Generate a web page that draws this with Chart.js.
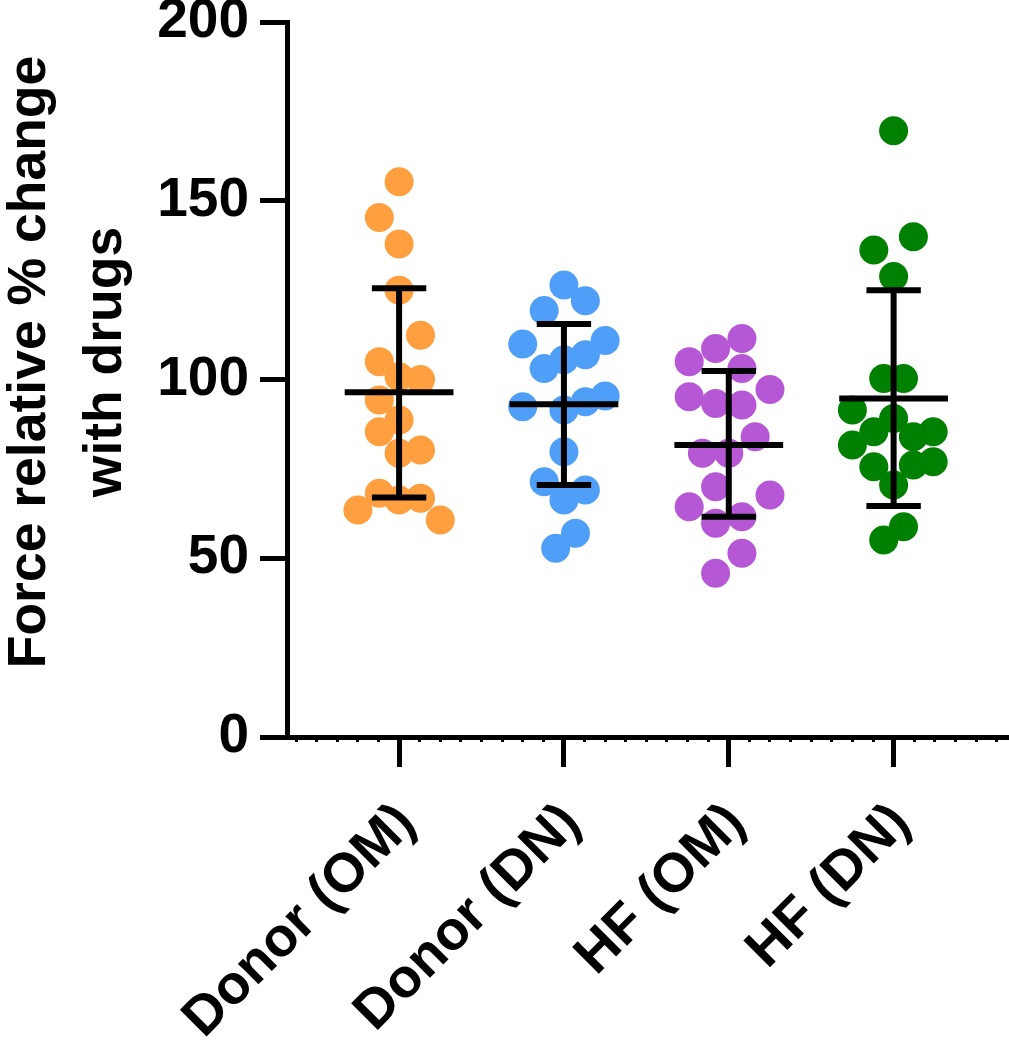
<!DOCTYPE html>
<html>
<head>
<meta charset="utf-8">
<script src="https://cdn.jsdelivr.net/npm/chart.js@4.4.0/dist/chart.umd.min.js"></script>
<style>
  html, body { margin: 0; padding: 0; background: #fff; }
  #wrap { width: 1009px; height: 1050px; position: relative; }
</style>
</head>
<body>
<div id="wrap"><canvas id="dot-plot"></canvas></div>
<script>
// groups and colours
const categories = ["Donor (OM)", "Donor (DN)", "HF (OM)", "HF (DN)"];
const colors = ["#FF9F3F", "#4F9FF8", "#B657D6", "#008000"];

// individual values + horizontal jitter in x units
const donorOM = [155.3, 145.3, 137.9, 125.0, 112.4, 105.0, 100.8, 100.0, 94.3, 88.7, 85.4, 80.3, 79.4, 68.2, 66.3, 66.8, 63.5, 60.7];
const donorOMJitter = [0, -0.12, 0, 0, 0.13, -0.12, 0, 0.13, -0.12, 0, -0.12, 0.13, 0, -0.12, 0, 0.13, -0.25, 0.25];

const donorDN = [126.4, 122.0, 119.3, 109.9, 110.9, 106.9, 105.5, 103.1, 95.4, 93.8, 92.4, 91.5, 79.8, 71.4, 69.1, 66.3, 57.0, 52.8];
const donorDNJitter = [0, 0.13, -0.12, -0.25, 0.25, 0.13, 0, -0.12, 0.25, 0.13, -0.25, 0, 0, -0.12, 0.13, 0, 0.07, -0.05];

const hfOM = [111.5, 108.7, 105.0, 103.1, 97.2, 95.2, 93.3, 92.9, 84.0, 79.4, 79.4, 70.0, 67.7, 64.4, 59.8, 61.6, 51.4, 45.8];
const hfOMJitter = [0.08, -0.08, -0.24, 0.08, 0.25, -0.24, -0.08, 0.08, 0.16, -0.16, 0, -0.08, 0.25, -0.24, -0.08, 0.08, 0.08, -0.08];

const hfDN = [169.6, 139.9, 136.2, 128.8, 100.3, 100.3, 91.5, 89.1, 85.4, 85.4, 84.0, 81.7, 75.6, 77.0, 76.1, 70.5, 58.8, 55.1];
const hfDNJitter = [0, 0.12, -0.12, 0, -0.06, 0.06, -0.25, 0, -0.12, 0.24, 0.12, -0.25, -0.12, 0.24, 0.12, 0, 0.06, -0.06];

// mean and mean ± SD
const means = [96.4, 93.1, 81.7, 94.7];
const sdUpper = [125.5, 115.5, 102.4, 125.0];
const sdLower = [67.0, 70.5, 61.6, 64.6];

const yTicks = [0, 50, 100, 150, 200];
const yTitle = ["Force relative % change", "with drugs"];

const groups = [donorOM, donorDN, hfOM, hfDN];
const jitters = [donorOMJitter, donorDNJitter, hfOMJitter, hfDNJitter];

const FONT = '"Liberation Sans", Arial, sans-serif';
const meanHalf = 0.33;
const capHalf = 0.165;

function errorBar(i) {
  const c = i + 1;
  return [
    { x: c - meanHalf, y: means[i] }, { x: c + meanHalf, y: means[i] }, { x: c, y: null },
    { x: c - capHalf, y: sdUpper[i] }, { x: c + capHalf, y: sdUpper[i] }, { x: c, y: null },
    { x: c - capHalf, y: sdLower[i] }, { x: c + capHalf, y: sdLower[i] }, { x: c, y: null },
    { x: c, y: sdLower[i] }, { x: c, y: sdUpper[i] }
  ];
}

const barSets = categories.map((name, i) => ({
  label: name + " mean ± SD",
  data: errorBar(i),
  showLine: true,
  spanGaps: false,
  borderColor: "#000",
  borderWidth: 6,
  borderCapStyle: "butt",
  pointRadius: 0,
  order: 0
}));

const dotSets = categories.map((name, i) => ({
  label: name,
  data: groups[i].map((v, k) => ({ x: i + 1 + jitters[i][k], y: v })),
  backgroundColor: colors[i],
  borderWidth: 0,
  pointRadius: 14.5,
  pointHoverRadius: 14.5,
  order: 1
}));

// y axis title, two centred lines
const yTitlePlugin = {
  id: "yTitle",
  afterDraw(chart) {
    const ctx = chart.ctx;
    ctx.save();
    ctx.translate(0, 362);
    ctx.rotate(-Math.PI / 2);
    ctx.font = "bold 53.5px " + FONT;
    ctx.fillStyle = "#000";
    ctx.textAlign = "center";
    ctx.textBaseline = "alphabetic";
    ctx.fillText(yTitle[0], 0, 45);
    ctx.fillText(yTitle[1], 0, 121);
    ctx.restore();
  }
};

new Chart("dot-plot", {
  type: "scatter",
  data: { datasets: barSets.concat(dotSets) },
  plugins: [yTitlePlugin],
  options: {
    responsive: true,
    maintainAspectRatio: false,
    animation: false,
    layout: { autoPadding: false, padding: { top: 22, left: 0, right: 0, bottom: 0 } },
    plugins: { legend: { display: false }, tooltip: { enabled: false } },
    scales: {
      y: {
        min: 0,
        max: 200,
        afterFit: (s) => { s.width = 287; s.paddingTop = 0; s.paddingBottom = 0; },
        afterBuildTicks: (s) => { s.ticks = yTicks.map(v => ({ value: v })); },
        border: { color: "#000", width: 5 },
        grid: { drawOnChartArea: false, color: "#000", tickLength: 27, tickWidth: 5 },
        ticks: { color: "#000", padding: 11, font: { family: FONT, size: 55, weight: "bold" } }
      },
      x: {
        type: "linear",
        position: "bottom",
        weight: 1,
        min: 0.32,
        max: 4.7,
        afterFit: (s) => { s.height = 313; s.paddingLeft = 0; s.paddingRight = 0; },
        afterBuildTicks: (s) => { s.ticks = categories.map((c, i) => ({ value: i + 1 })); },
        border: { color: "#000", width: 5 },
        grid: { drawOnChartArea: false, color: "#000", tickLength: 30, tickWidth: 5 },
        ticks: {
          color: "#000",
          padding: 24,
          labelOffset: 8,
          autoSkip: false,
          minRotation: 45,
          maxRotation: 45,
          font: { family: FONT, size: 55, weight: "bold" },
          callback: (v) => categories[Math.round(v) - 1]
        }
      },
      xMinor: {
        type: "linear",
        position: "bottom",
        weight: -1,
        min: 0.32,
        max: 4.7,
        afterFit: (s) => { s.height = 0; s.paddingLeft = 0; s.paddingRight = 0; },
        afterBuildTicks: (s) => {
          const t = [];
          for (let k = 3; k <= 37; k++) t.push({ value: k / 8 });
          s.ticks = t;
        },
        border: { display: false },
        grid: { drawOnChartArea: false, color: "#000", tickLength: 5, tickWidth: 3 },
        ticks: { display: false }
      }
    }
  }
});
</script>
</body>
</html>
